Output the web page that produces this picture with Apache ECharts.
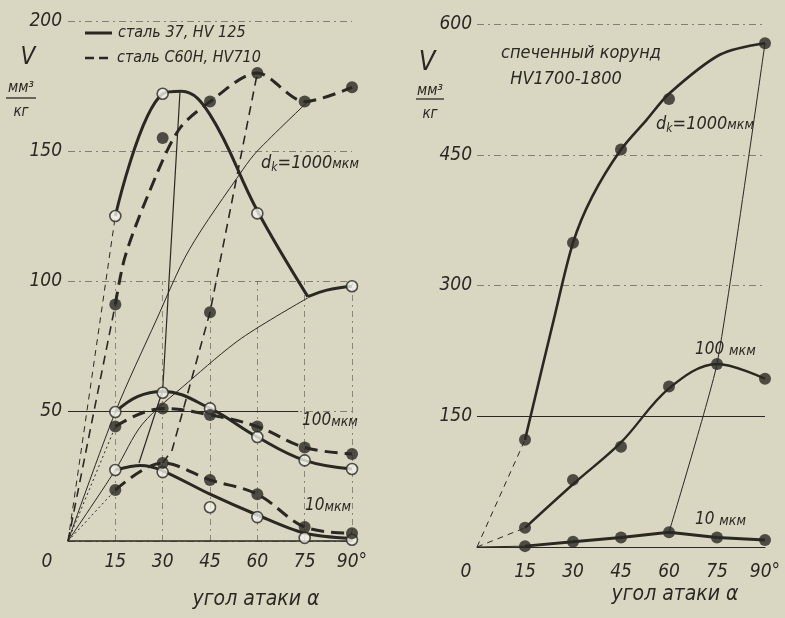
<!DOCTYPE html>
<html><head><meta charset="utf-8">
<script src="https://cdn.jsdelivr.net/npm/echarts@6/dist/echarts.min.js"></script>
<style>html,body{margin:0;padding:0;background:#d9d6c2;}#c{width:785px;height:618px;}</style>
</head><body><div id="c"></div>
<script>
// ---------- data ----------
const angles = [15, 30, 45, 60, 75, 90];
const leftYTicks = [0, 50, 100, 150, 200];
const rightYTicks = [0, 150, 300, 450, 600];

// Left chart: steel 37 (solid, open circles) and steel C60H (dashed, filled dots)
const L_s37_1000_dots  = [[15,125],[30,172],[60,126],[90,98]];
const L_s37_1000_curve = [[15,125],[30,172],[36,173],[45,164],[60,127],[76,94]];
const L_s37_1000_tail  = [[76,94],[82,96.5],[90,98]];
const L_s37_1000_lead  = [[0,0],[15,125]];

const L_c60_1000_dots  = [[15,91],[30,155],[45,169],[60,180],[75,169],[90,174.5]];
const L_c60_1000_curve = [[15,91],[18,109],[25,132],[35,158],[45,169],[60,180],[75,169],[90,174.5]];
const L_c60_1000_lead  = [[0,0],[15,91]];

const L_s37_100_dots  = [[15,49.6],[30,57],[45,51],[60,40],[75,31],[90,27.7]];
const L_s37_100_curve = [[15,49.6],[22,55.5],[30,57.5],[45,51],[60,40],[75,31],[90,27.7]];
const L_c60_100_dots  = [[15,44],[30,51],[45,48.5],[60,44],[75,36],[90,33.5]];
const L_c60_100_lead  = [[0,0],[15,44]];

const L_s37_10_dots  = [[15,27.3],[30,26.5],[45,13],[60,9.2],[75,1.2],[90,0.5]];
const L_s37_10_curve = [[15,27.3],[23,29],[30,27],[45,18],[60,10],[75,3],[90,1]];
const L_c60_10_dots  = [[15,19.6],[30,30],[45,23.5],[60,18],[75,5.4],[90,3]];
const L_c60_10_lead  = [[0,0],[15,19.6]];

const L_thin1   = [[0,0],[15,49.6],[28,85],[38.4,112],[55.5,143],[60,150],[76,169]];
const L_thin2   = [[0,0],[15,27.3],[23.6,45],[38,61],[55,78],[76,93.5]];
const L_peak37  = [[22.5,30],[30,58],[35.5,173]];
const L_peakC60 = [[30,30],[33,35],[45,88],[60,180]];
const L_peakC60_dot = [[45,88]];

// Right chart: sintered corundum
const R_1000_dots  = [[15,123],[30,349],[45,456],[60,514],[90,578]];
const R_1000_curve = [[15,123],[24,261],[30,349],[36,402],[45,456],[53,490],[60,520],[76,565],[90,578]];
const R_100_dots   = [[15,22],[30,77],[45,115],[60,184],[75,210],[90,193]];
const R_100_curve  = [[15,22],[30,72],[45,120],[60,182],[75,210],[90,193]];
const R_10         = [[15,1],[30,6],[45,11],[60,17],[75,11],[90,8]];
const R_peak       = [[60,17],[75,210],[90,578]];
const R_leads      = [[[0,0],[15,123]],[[0,0],[15,22]],[[0,0],[15,1]]];

// ---------- styling ----------
const BG = '#d9d6c2';
const INK = '#2b2823';
const FONT = '"DejaVu Sans Condensed","DejaVu Sans",sans-serif';

function ln(g, data, o) {
  o = o || {};
  return {
    type: 'line', xAxisIndex: g, yAxisIndex: g, data: data,
    symbol: 'none', showSymbol: false, silent: true,
    smooth: o.smooth === undefined ? 0.35 : o.smooth,
    smoothMonotone: o.mono || null,
    lineStyle: { color: INK, width: o.w || 1, type: o.type || 'solid' },
    z: o.z || 3
  };
}
function dots(g, data, filled, size) {
  return {
    type: 'scatter', xAxisIndex: g, yAxisIndex: g, data: data,
    symbol: 'circle', symbolSize: size || (filled ? 12 : 11), silent: true,
    itemStyle: filled ? { color: INK } : { color: '#f3f1e8', borderColor: INK, borderWidth: 1.6 },
    z: 6
  };
}
const HEAVY_DASH = [13, 7];

const series = [
  // left chart thin construction lines
  ln(0, L_thin1, { w: 1, smooth: 0.3, z: 2 }),
  ln(0, L_thin2, { w: 1, smooth: 0.3, z: 2 }),
  ln(0, L_peak37, { w: 1.2, smooth: 0, z: 2 }),
  ln(0, L_peakC60, { w: 1.6, smooth: 0, type: [9, 6], z: 2 }),
  ln(0, L_s37_1000_lead, { w: 1, smooth: 0, type: [6, 5], z: 2 }),
  ln(0, L_c60_1000_lead, { w: 1.6, smooth: 0, type: [9, 6], z: 2 }),
  ln(0, L_c60_100_lead, { w: 1, smooth: 0, type: [2, 3], z: 2 }),
  ln(0, L_c60_10_lead, { w: 1, smooth: 0, type: [2, 3], z: 2 }),
  // left chart heavy curves
  ln(0, L_s37_1000_curve, { w: 3, smooth: 0.4 }),
  ln(0, L_s37_1000_tail, { w: 3, smooth: 0.3 }),
  ln(0, L_c60_1000_curve, { w: 3, type: HEAVY_DASH, smooth: 0.3 }),
  ln(0, L_s37_100_curve, { w: 3, smooth: 0.4 }),
  ln(0, L_c60_100_dots, { w: 3, type: HEAVY_DASH, smooth: 0.4 }),
  ln(0, L_s37_10_curve, { w: 3, smooth: 0.3 }),
  ln(0, L_c60_10_dots, { w: 3, type: HEAVY_DASH, smooth: 0.35 }),
  // left chart markers
  dots(0, L_s37_1000_dots, false), dots(0, L_c60_1000_dots, true),
  dots(0, L_s37_100_dots, false), dots(0, L_c60_100_dots, true),
  dots(0, L_s37_10_dots, false), dots(0, L_c60_10_dots, true),
  dots(0, L_peakC60_dot, true),
  // right chart
  ln(1, R_peak, { w: 1, smooth: 0.15, z: 2 }),
  ln(1, R_leads[0], { w: 1, smooth: 0, type: [6, 5], z: 2 }),
  ln(1, R_leads[1], { w: 1, smooth: 0, type: [6, 5], z: 2 }),
  ln(1, R_leads[2], { w: 1, smooth: 0, z: 2 }),
  ln(1, R_1000_curve, { w: 2.6, smooth: 0.3 }),
  ln(1, R_100_curve, { w: 2.4, smooth: 0.35 }),
  ln(1, R_10, { w: 3, smooth: 0 }),
  dots(1, R_1000_dots, true, 12), dots(1, R_100_dots, true, 12), dots(1, R_10, true, 12)
];

// solid reference lines (50 on left, 150 on right) and vertical guides on left
series.push({
  type: 'line', xAxisIndex: 0, yAxisIndex: 0, data: [], silent: true,
  markLine: {
    silent: true, symbol: 'none', label: { show: false },
    data: [[{ coord: [0, leftYTicks[1]], lineStyle: { type: 'solid', width: 1, color: INK } }, { coord: [73, leftYTicks[1]] }]]
      .concat(angles.map(a => [{ coord: [a, 0], lineStyle: { type: [6, 4, 2, 4], width: 1, color: 'rgba(45,40,35,0.45)' } }, { coord: [a, 100] }]))
  }
});
series.push({
  type: 'line', xAxisIndex: 1, yAxisIndex: 1, data: [], silent: true,
  markLine: {
    silent: true, symbol: 'none', label: { show: false },
    data: [[{ coord: [0, rightYTicks[1]], lineStyle: { type: 'solid', width: 1, color: INK } }, { coord: [90, rightYTicks[1]] }]]
  }
});

function xAxisCfg(i, zpad, margin) {
  return {
    gridIndex: i, type: 'value', min: 0, max: 90, interval: 15,
    axisLine: { show: true, lineStyle: { color: INK, width: i === 0 ? 1.5 : 1 } },
    axisTick: { show: false }, splitLine: { show: false },
    axisLabel: {
      margin: margin, color: INK, fontSize: 19, fontStyle: 'italic', fontFamily: FONT,
      formatter: v => v === 0 ? '{z|0}' : (v === 90 ? '90°' : String(v)),
      rich: { z: { padding: [0, zpad, 0, 0], fontSize: 19, fontStyle: 'italic', fontFamily: FONT, color: INK } }
    }
  };
}
function yAxisCfg(i, max, interval, margin) {
  return {
    gridIndex: i, type: 'value', min: 0, max: max, interval: interval,
    axisLine: { show: false }, axisTick: { show: false },
    axisLabel: { showMinLabel: false, margin: margin, color: INK, fontSize: 19, fontStyle: 'italic', fontFamily: FONT },
    splitLine: { show: true, lineStyle: { type: [7, 4, 2, 4], color: 'rgba(45,40,35,0.5)', width: 1 } }
  };
}

const T = (x, y, text, size, align, extra) => Object.assign({
  type: 'text', x: x, y: y, silent: true,
  style: { text: text, fill: INK, font: 'italic ' + size + 'px ' + FONT, textAlign: align || 'center', textVerticalAlign: 'middle' }
}, extra || {});
const L = (x1, y1, x2, y2, w, dash) => ({
  type: 'line', silent: true, shape: { x1: x1, y1: y1, x2: x2, y2: y2 },
  style: { stroke: INK, lineWidth: w, lineDash: dash || null }
});
function dk(x, y) {
  return {
    type: 'text', x: x, y: y, silent: true,
    style: {
      text: '{a|d}{b|k}{a|=1000}{c|мкм}', textAlign: 'center', textVerticalAlign: 'middle',
      rich: {
        a: { font: 'italic 18px ' + FONT, fill: INK },
        b: { font: 'italic 12px ' + FONT, fill: INK, padding: [10, 0, 0, 0] },
        c: { font: 'italic 14px ' + FONT, fill: INK, padding: [3, 0, 0, 0] }
      }
    }
  };
}
function mk(x, y, num) {
  return {
    type: 'text', x: x, y: y, silent: true,
    style: {
      text: '{a|' + num + '}{c|мкм}', textAlign: 'left', textVerticalAlign: 'middle',
      rich: { a: { font: 'italic 17px ' + FONT, fill: INK }, c: { font: 'italic 14px ' + FONT, fill: INK, padding: [3, 0, 0, 0] } }
    }
  };
}

const graphic = [
  // legend
  L(85, 33, 112, 33, 3), T(118, 33, 'сталь 37, HV 125', 16, 'left'),
  L(85, 58, 111, 58, 2.5, [9, 5]), T(117, 58, 'сталь С60Н, НV710', 16, 'left'),
  // left y unit
  T(28, 58, 'V', 24), T(21, 88, 'мм³', 15), L(6, 98, 36, 98, 1.3), T(21, 112, 'кг', 15),
  // right y unit
  T(427, 63, 'V', 27), T(430, 91, 'мм³', 15), L(416, 99, 444, 99, 1.3), T(430, 114, 'кг', 15),
  // annotations left
  dk(310, 163), mk(302, 421, '100'), mk(305, 506, '10'),
  // annotations right
  T(581, 53, 'спеченный корунд', 18), T(566, 79, 'HV1700-1800', 18),
  dk(705, 124), mk(695, 350, '100 '), mk(695, 520, '10 '),
  // axis titles
  T(256, 600, 'угол атаки α', 21), T(675, 595, 'угол атаки α', 21)
];

const option = {
  backgroundColor: BG, animation: false,
  grid: [{ left: 68, top: 21, width: 284, height: 520 }, { left: 477, top: 24, width: 288, height: 523 }],
  xAxis: [xAxisCfg(0, 42, 12), xAxisCfg(1, 22, 16)],
  yAxis: [yAxisCfg(0, 200, 50, 6), yAxisCfg(1, 600, 150, 5)],
  series: series,
  graphic: graphic
};
const chart = echarts.init(document.getElementById('c'), null, { renderer: 'canvas' });
chart.setOption(option);
</script></body></html>
